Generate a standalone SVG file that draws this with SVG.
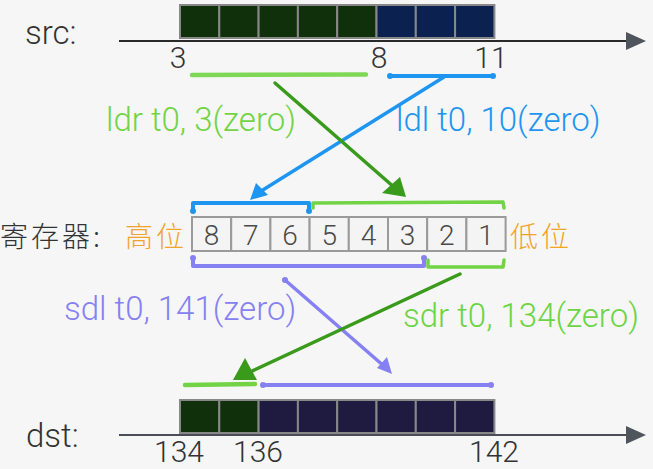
<svg xmlns="http://www.w3.org/2000/svg" width="653" height="469" viewBox="0 0 653 469">
<style>
.bg{fill:#f6f6f6}
.lbl{font-family:Roboto,"Liberation Sans",sans-serif;font-weight:300;fill:#333;font-size:33px}
.num{font-family:Roboto,"Liberation Sans",sans-serif;font-weight:300;fill:#333;font-size:30px;text-anchor:middle}
.code{font-family:Roboto,"Liberation Sans",sans-serif;font-weight:300;font-size:33px}
.cjk{font-family:"Noto Sans CJK SC",sans-serif;font-weight:300;font-size:28px;letter-spacing:3px}
.axis{stroke:#2a2a2a;stroke-width:2}
.axhead{fill:#50545c}
.cellG{fill:#10300b;stroke:#888;stroke-width:2}
.cellB{fill:#0b2150;stroke:#888;stroke-width:2}
.cellP{fill:#1e1a40;stroke:#888;stroke-width:2}
.reg{fill:#f4f4f4;stroke:#9a9a9a;stroke-width:2}
.regnum{font-family:Roboto,"Liberation Sans",sans-serif;font-weight:300;fill:#4a4a4a;font-size:28px;text-anchor:middle}
.blue{stroke:#1f95f2;fill:none;stroke-width:4;stroke-linecap:round;stroke-linejoin:round}
.lgreen{stroke:#72d445;fill:none;stroke-width:4;stroke-linecap:round;stroke-linejoin:round}
.dgreen{stroke:#3a9a1c;fill:none;stroke-width:3.5;stroke-linecap:round}
.purple{stroke:#8581f2;fill:none;stroke-width:4;stroke-linecap:round;stroke-linejoin:round}
</style>
<rect class="bg" x="0" y="0" width="653" height="469"/>

<g id="src">
  <text class="lbl" x="25" y="44">src:</text>
  <line class="axis" x1="119" y1="41" x2="628" y2="41"/>
  <polygon class="axhead" points="626,32 646,41 626,50"/>
  <rect class="cellG" x="180" y="5" width="39.3" height="33"/>
  <rect class="cellG" x="219.3" y="5" width="39.3" height="33"/>
  <rect class="cellG" x="258.6" y="5" width="39.3" height="33"/>
  <rect class="cellG" x="297.9" y="5" width="39.3" height="33"/>
  <rect class="cellG" x="337.2" y="5" width="39.3" height="33"/>
  <rect class="cellB" x="376.5" y="5" width="39.3" height="33"/>
  <rect class="cellB" x="415.8" y="5" width="39.3" height="33"/>
  <rect class="cellB" x="455.1" y="5" width="39.3" height="33"/>
  <text class="num" x="178" y="68">3</text>
  <text class="num" x="379" y="68">8</text>
  <text class="num" x="491" y="68">11</text>
</g>

<g id="register">
  <text class="cjk" x="0" y="247" fill="#333">寄存器:</text>
  <text class="cjk" x="125" y="247" fill="#f2a328">高位</text>
  <text class="cjk" x="510" y="247" fill="#f2a328">低位</text>
  <rect class="reg" x="192" y="217" width="39.2" height="34"/>
  <rect class="reg" x="231.2" y="217" width="39.2" height="34"/>
  <rect class="reg" x="270.4" y="217" width="39.2" height="34"/>
  <rect class="reg" x="309.6" y="217" width="39.2" height="34"/>
  <rect class="reg" x="348.8" y="217" width="39.2" height="34"/>
  <rect class="reg" x="388" y="217" width="39.2" height="34"/>
  <rect class="reg" x="427.2" y="217" width="39.2" height="34"/>
  <rect class="reg" x="466.4" y="217" width="39.2" height="34"/>
  <text class="regnum" x="211.6" y="245">8</text>
  <text class="regnum" x="250.8" y="245">7</text>
  <text class="regnum" x="290" y="245">6</text>
  <text class="regnum" x="329.2" y="245">5</text>
  <text class="regnum" x="368.4" y="245">4</text>
  <text class="regnum" x="407.6" y="245">3</text>
  <text class="regnum" x="446.8" y="245">2</text>
  <text class="regnum" x="486" y="245">1</text>
</g>

<g id="dst">
  <text class="lbl" x="26" y="447">dst:</text>
  <line class="axis" x1="119" y1="435" x2="628" y2="435" style="stroke:#4a4d55"/>
  <polygon class="axhead" points="626,426 646,435 626,444"/>
  <rect class="cellG" x="180" y="400" width="39.3" height="33"/>
  <rect class="cellG" x="219.3" y="400" width="39.3" height="33"/>
  <rect class="cellP" x="258.6" y="400" width="39.3" height="33"/>
  <rect class="cellP" x="297.9" y="400" width="39.3" height="33"/>
  <rect class="cellP" x="337.2" y="400" width="39.3" height="33"/>
  <rect class="cellP" x="376.5" y="400" width="39.3" height="33"/>
  <rect class="cellP" x="415.8" y="400" width="39.3" height="33"/>
  <rect class="cellP" x="455.1" y="400" width="39.3" height="33"/>
  <text class="num" x="179" y="462">134</text>
  <text class="num" x="258" y="462">136</text>
  <text class="num" x="494" y="462">142</text>
</g>

<g id="labels">
  <text class="code" x="106" y="131" fill="#72d445">ldr t0, 3(zero)</text>
  <text class="code" x="396" y="131" fill="#1f95f2">ldl t0, 10(zero)</text>
  <text class="code" x="64" y="320" fill="#8581f2">sdl t0, 141(zero)</text>
  <text class="code" x="403" y="327" fill="#6cd445">sdr t0, 134(zero)</text>
</g>

<g id="connectors">
  <path class="lgreen" d="M192,75 L366,74.5" style="stroke-width:4.5;opacity:0.9"/>
  <path class="blue" d="M390,76 L493,76"/>
  <circle cx="390" cy="76" r="3" fill="#1f95f2"/>
  <circle cx="493" cy="76" r="3" fill="#1f95f2"/>
  <path class="blue" d="M444,77 L258,193" style="stroke-width:3.5"/>
  <polygon points="250,200 256,183 268,195" fill="#1f95f2"/>
  <path class="dgreen" d="M275,83 L395,188"/>
  <polygon points="406,197 382,193 400,177" fill="#3a9a1c"/>
  <path class="blue" d="M193,211 L193,203 L309,203 L309,211"/>
  <circle cx="193" cy="211" r="3" fill="#1f95f2"/>
  <circle cx="309" cy="211" r="3" fill="#1f95f2"/>
  <path class="lgreen" d="M313,208 L313,203 L503,202 L504,208" style="stroke-width:3.5"/>
  <path class="purple" d="M193,258 L193,266 L424,266 L424,258"/>
  <circle cx="193" cy="258" r="3" fill="#8581f2"/>
  <circle cx="424" cy="258" r="3" fill="#8581f2"/>
  <path class="lgreen" d="M428,260 L428,267 L503,267 L504,260" style="stroke-width:3.5"/>
  <path class="purple" d="M285,280 L385,367" style="stroke-width:3.5"/>
  <circle cx="285" cy="280" r="3" fill="#8581f2"/>
  <polygon points="392,374 377,368 387,357" fill="#8581f2"/>
  <path class="dgreen" d="M460,274 L250,372"/>
  <polygon points="233,380 245,358 257,380" fill="#3a9a1c"/>
  <path class="lgreen" d="M185,385 L255,384" style="stroke-width:4.5"/>
  <path class="purple" d="M263,385 L491,385"/>
  <circle cx="263" cy="385" r="3" fill="#8581f2"/>
  <circle cx="491" cy="385" r="3" fill="#8581f2"/>
</g>
</svg>
